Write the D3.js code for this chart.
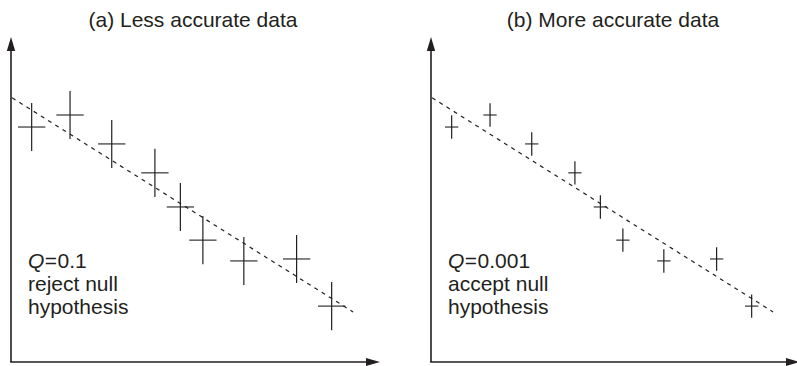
<!DOCTYPE html>
<html>
<head>
<meta charset="utf-8">
<script src="https://cdn.jsdelivr.net/npm/d3@7"></script>
<style>
  html, body { margin: 0; padding: 0; background: #fff; }
  svg { display: block; }
  text { font-family: "Liberation Sans", Arial, Helvetica, sans-serif; fill: #231f20; }
</style>
</head>
<body>
<svg id="chart" width="797" height="366"></svg>
<script>
// Measurements (arbitrary units), shared by both panels
const xValues = [0.56, 1.60, 2.73, 3.90, 4.59, 5.20, 6.31, 7.74, 8.69];
const yValues = [7.23, 7.60, 6.71, 5.82, 4.77, 3.75, 3.11, 3.17, 1.72];

// Straight-line fit drawn through the points
const fitIntercept = 8.15;
const fitSlope = -0.713;
const fitRange = [0.03, 9.27];

// Panel definitions
const panelTitles = ["(a) Less accurate data", "(b) More accurate data"];
const panelXErr = [0.37, 0.18];
const panelYErr = [0.74, 0.36];
const panelQ = ["0.1", "0.001"];
const panelVerdict = ["reject null", "accept null"];

const svg = d3.select("#chart");
const ink = "#231f20";

const panelLeft = [11, 431];
const axisLen = 369;
const yTop = 37, yBottom = 362;

panelTitles.forEach((title, p) => {
  const x = d3.scaleLinear().domain([0, 10]).range([panelLeft[p], panelLeft[p] + axisLen]);
  const y = d3.scaleLinear().domain([0, 10]).range([yBottom, yTop]);
  const g = svg.append("g");

  // Axes with arrowheads
  g.append("line")
    .attr("x1", x(0)).attr("y1", y(0))
    .attr("x2", x(0)).attr("y2", y(10) + 10)
    .attr("stroke", ink).attr("stroke-width", 1.6);
  g.append("line")
    .attr("x1", x(0) - 0.8).attr("y1", y(0))
    .attr("x2", x(10) - 10).attr("y2", y(0))
    .attr("stroke", ink).attr("stroke-width", 1.6);
  g.append("path")
    .attr("d", `M${x(0)},${y(10)} L${x(0) - 4.2},${y(10) + 14} L${x(0) + 4.2},${y(10) + 14} Z`)
    .attr("fill", ink);
  g.append("path")
    .attr("d", `M${x(10)},${y(0)} L${x(10) - 14},${y(0) - 4} L${x(10) - 14},${y(0) + 4} Z`)
    .attr("fill", ink);

  // Dashed fitted line
  g.append("line")
    .attr("x1", x(fitRange[0])).attr("y1", y(fitIntercept + fitSlope * fitRange[0]))
    .attr("x2", x(fitRange[1])).attr("y2", y(fitIntercept + fitSlope * fitRange[1]))
    .attr("stroke", ink).attr("stroke-width", 1.2)
    .attr("stroke-dasharray", "4,4.5");

  // Error crosses
  const pts = xValues.map((xv, i) => ({ x: xv, y: yValues[i] }));
  const crosses = g.selectAll("g.pt").data(pts).join("g").attr("class", "pt");
  crosses.append("line")
    .attr("x1", d => x(d.x - panelXErr[p])).attr("x2", d => x(d.x + panelXErr[p]))
    .attr("y1", d => y(d.y)).attr("y2", d => y(d.y))
    .attr("stroke", ink).attr("stroke-width", 1.1);
  crosses.append("line")
    .attr("x1", d => x(d.x)).attr("x2", d => x(d.x))
    .attr("y1", d => y(d.y - panelYErr[p])).attr("y2", d => y(d.y + panelYErr[p]))
    .attr("stroke", ink).attr("stroke-width", 1.2);

  // Title
  g.append("text")
    .attr("x", panelLeft[p] + 182).attr("y", 27)
    .attr("text-anchor", "middle")
    .attr("font-size", 21)
    .text(title);

  // Annotation
  const note = g.append("text")
    .attr("x", panelLeft[p] + 17).attr("y", 268)
    .attr("font-size", 21);
  const l1 = note.append("tspan").attr("x", panelLeft[p] + 17);
  l1.append("tspan").attr("font-style", "italic").text("Q");
  l1.append("tspan").attr("dx", 0.5).text("=");
  l1.append("tspan").attr("dx", 0.5).text(panelQ[p]);
  note.append("tspan").attr("x", panelLeft[p] + 17).attr("dy", 23).text(panelVerdict[p]);
  note.append("tspan").attr("x", panelLeft[p] + 17).attr("dy", 23).text("hypothesis");
});
</script>
</body>
</html>
